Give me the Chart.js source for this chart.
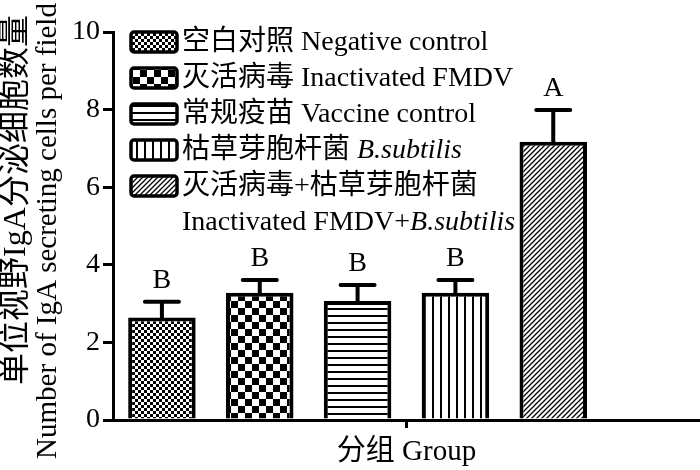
<!DOCTYPE html>
<html>
<head>
<meta charset="utf-8">
<script src="https://cdn.jsdelivr.net/npm/chart.js@4.4.0/dist/chart.umd.min.js"></script>
<style>
  html, body { margin: 0; padding: 0; background: #fff; }
  #wrap { width: 700px; height: 470px; position: relative; }
</style>
</head>
<body>
<div id="wrap"><canvas id="igaChart"></canvas></div>
<script>
// data
const GROUPS = ['空白对照', '灭活病毒', '常规疫苗', '枯草芽胞杆菌', '灭活病毒+枯草芽胞杆菌', ''];
const MEANS = [2.64, 3.28, 3.07, 3.28, 7.17, null];
const SD = [0.41, 0.33, 0.41, 0.33, 0.82, null];
const LETTERS = ['B', 'B', 'B', 'B', 'A', ''];
const LEGEND_CN = ['空白对照', '灭活病毒', '常规疫苗', '枯草芽胞杆菌', '灭活病毒+枯草芽胞杆菌'];
const LEGEND_EN = ['Negative control', 'Inactivated FMDV', 'Vaccine control', '', 'Inactivated FMDV+'];
const LEGEND_EN_ITALIC = ['', '', '', 'B.subtilis', 'B.subtilis'];
const Y_TITLE_CN = '单位视野IgA分泌细胞数量';
const Y_TITLE_EN = 'Number of IgA secreting cells per field';
const X_TITLE = '分组 Group';

const FONT = '"Liberation Serif", "Noto Sans CJK SC", serif';

document.addEventListener('DOMContentLoaded', () => {
  const canvas = document.getElementById('igaChart');
  const ctx = canvas.getContext('2d');

  function makePattern(size, draw) {
    const c = document.createElement('canvas');
    c.width = size;
    c.height = size;
    const g = c.getContext('2d');
    g.fillStyle = '#fff';
    g.fillRect(0, 0, size, size);
    g.fillStyle = '#000';
    g.strokeStyle = '#000';
    draw(g, size);
    return ctx.createPattern(c, 'repeat');
  }

  const PATTERNS = [
    makePattern(6, g => { g.fillRect(0, 0, 3, 3); g.fillRect(3, 3, 3, 3); }),
    makePattern(14, g => { g.fillRect(0, 0, 7, 7); g.fillRect(7, 7, 7, 7); }),
    makePattern(7, g => { g.fillRect(0, 0, 7, 2); }),
    makePattern(8, g => { g.fillRect(0, 0, 2, 8); }),
    makePattern(5, (g, s) => {
      g.lineWidth = 1.3;
      g.beginPath();
      g.moveTo(-1, s + 1); g.lineTo(s + 1, -1);
      g.moveTo(-1, 1); g.lineTo(1, -1);
      g.moveTo(s - 1, s + 1); g.lineTo(s + 1, s - 1);
      g.stroke();
    })
  ];

  const errorBars = {
    id: 'errorBars',
    afterDatasetsDraw(chart) {
      const c = chart.ctx;
      const y = chart.scales.y;
      const meta = chart.getDatasetMeta(0);
      c.save();
      c.strokeStyle = '#000';
      c.fillStyle = '#000';
      c.lineWidth = 4;
      c.lineCap = 'round';
      c.font = '28px ' + FONT;
      c.textAlign = 'center';
      c.textBaseline = 'alphabetic';
      MEANS.forEach((m, i) => {
        if (m == null) return;
        const bar = meta.data[i];
        const top = y.getPixelForValue(m + SD[i]);
        c.beginPath();
        c.moveTo(bar.x, bar.y);
        c.lineTo(bar.x, top);
        c.moveTo(bar.x - 17, top);
        c.lineTo(bar.x + 17, top);
        c.stroke();
        c.fillText(LETTERS[i], bar.x, top - 14);
      });
      c.restore();
    }
  };

  const extras = {
    id: 'extras',
    afterDraw(chart) {
      const c = chart.ctx;
      const area = chart.chartArea;
      c.save();
      c.fillStyle = '#000';
      c.strokeStyle = '#000';

      // single tick under the x axis
      const mid = (area.left + area.right) / 2;
      c.lineWidth = 3;
      c.beginPath();
      c.moveTo(mid, area.bottom);
      c.lineTo(mid, area.bottom + 8);
      c.stroke();

      // two-line y title
      c.textAlign = 'center';
      c.textBaseline = 'middle';
      c.save();
      c.translate(17, 200);
      c.rotate(-Math.PI / 2);
      c.font = '32px ' + FONT;
      c.fillText(Y_TITLE_CN, 0, 0);
      c.restore();
      c.save();
      c.translate(48, 231);
      c.rotate(-Math.PI / 2);
      c.font = '29px ' + FONT;
      c.fillText(Y_TITLE_EN, 0, 0);
      c.restore();

      // legend
      c.textAlign = 'left';
      let row = 0;
      LEGEND_CN.forEach((cn, i) => {
        const cy = 42 + row * 36;
        c.save();
        c.beginPath();
        c.roundRect(131, cy - 10, 46, 20, 3);
        c.fillStyle = PATTERNS[i];
        c.fill();
        c.lineWidth = 3.5;
        c.stroke();
        c.restore();

        c.font = '28px ' + FONT;
        c.fillText(cn, 182, cy + 1);
        let x = 182 + c.measureText(cn + ' ').width;
        let enWidth = c.measureText(LEGEND_EN[i]).width;
        c.font = 'italic 28px ' + FONT;
        enWidth += c.measureText(LEGEND_EN_ITALIC[i]).width;
        let ty = cy + 1;
        if (x + enWidth > 525) {
          row++;
          ty = 42 + row * 36 + 1;
          x = 182;
        }
        c.font = '28px ' + FONT;
        c.fillText(LEGEND_EN[i], x, ty);
        x += c.measureText(LEGEND_EN[i]).width;
        c.font = 'italic 28px ' + FONT;
        c.fillText(LEGEND_EN_ITALIC[i], x, ty);
        row++;
      });
      c.restore();
    }
  };

  new Chart(ctx, {
    type: 'bar',
    data: {
      labels: GROUPS,
      datasets: [{
        data: MEANS,
        backgroundColor: PATTERNS,
        borderColor: '#000',
        borderWidth: 4,
        borderSkipped: 'start',
        barPercentage: 0.69,
        categoryPercentage: 1
      }]
    },
    options: {
      responsive: true,
      maintainAspectRatio: false,
      animation: false,
      layout: { padding: { top: 32, right: 0, left: 0, bottom: 0 } },
      plugins: {
        legend: { display: false },
        tooltip: { enabled: false }
      },
      scales: {
        x: {
          grid: { display: false },
          border: { color: '#000', width: 3 },
          ticks: { display: false },
          title: {
            display: true,
            text: X_TITLE,
            color: '#000',
            font: { family: FONT, size: 29 },
            padding: { top: 12, bottom: 0 }
          },
          afterFit: s => { s.height = 50; }
        },
        y: {
          min: 0,
          max: 10,
          ticks: {
            stepSize: 2,
            color: '#000',
            padding: 3,
            font: { family: FONT, size: 28 }
          },
          grid: {
            drawOnChartArea: false,
            drawTicks: true,
            tickLength: 10,
            color: '#000',
            lineWidth: 3
          },
          border: { color: '#000', width: 3 },
          afterFit: s => { s.width = 113; }
        }
      }
    },
    plugins: [errorBars, extras]
  });
});
</script>
</body>
</html>
